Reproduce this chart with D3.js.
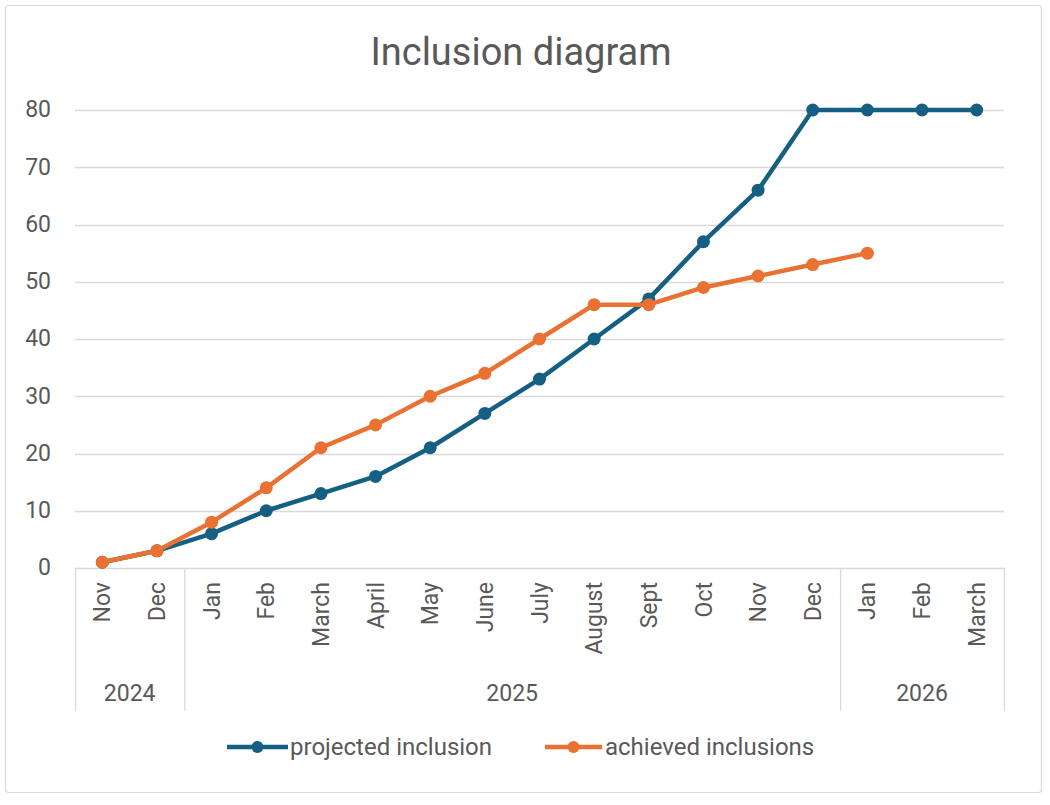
<!DOCTYPE html>
<html>
<head>
<meta charset="utf-8">
<script src="https://cdn.jsdelivr.net/npm/d3@7/dist/d3.min.js"></script>
<style>
html,body{margin:0;padding:0;background:#fff;}
svg{display:block;font-family:Roboto, "Liberation Sans", Arial, sans-serif;}
</style>
</head>
<body>
<svg id="chart" width="1050" height="805"></svg>
<script>
const months = ["Nov","Dec","Jan","Feb","March","April","May","June","July","August","Sept","Oct","Nov","Dec","Jan","Feb","March"];
const years = [
  {label:"2024", start:0, end:1},
  {label:"2025", start:2, end:13},
  {label:"2026", start:14, end:16}
];
const projected = [1,3,6,10,13,16,21,27,33,40,47,57,66,80,80,80,80];
const achieved = [1,3,8,14,21,25,30,34,40,46,46,49,51,53,55];
const yTicks = [0,10,20,30,40,50,60,70,80];
const seriesNames = ["projected inclusion","achieved inclusions"];
const colors = ["#156082","#E97132"];

(function(){
const svg = d3.select("#chart");
const textColor = "#595959";
const gridColor = "#d9d9d9";

// border
svg.append("rect").attr("x",5.5).attr("y",5.5).attr("width",1036).attr("height",787)
  .attr("fill","#fff").attr("stroke","#d9d9d9").attr("stroke-width",1.2).attr("rx",3);

const pLeft = 75, pRight = 1004, pTop = 110, pBottom = 568;
const x = d3.scaleBand().domain(d3.range(months.length)).range([pLeft,pRight]).padding(0);
const cx = i => x(i) + x.bandwidth()/2;
const y = d3.scaleLinear().domain([0,80]).range([pBottom,pTop]);

// title
svg.append("text").attr("x",521).attr("y",65).attr("text-anchor","middle")
  .attr("fill",textColor).attr("font-size",38).text("Inclusion diagram");

// gridlines
svg.append("g").selectAll("line").data(yTicks).join("line")
  .attr("x1",pLeft).attr("x2",pRight)
  .attr("y1",d=>Math.round(y(d))+0.5).attr("y2",d=>Math.round(y(d))+0.5)
  .attr("stroke",gridColor).attr("stroke-width",1.3);

// y tick labels
const yAxis = d3.axisLeft(y).tickValues(yTicks).tickSize(0).tickPadding(0);
const yg = svg.append("g").attr("transform",`translate(51,0)`).call(yAxis);
yg.select(".domain").remove();
yg.selectAll("text").attr("fill",textColor).attr("font-size",23).attr("dy","0.3em")
  .attr("font-family","Roboto, 'Liberation Sans', Arial, sans-serif");

// x month labels
svg.append("g").selectAll("text").data(months).join("text")
  .attr("transform",(d,i)=>`translate(${cx(i)},${pBottom+14}) rotate(-90)`)
  .attr("text-anchor","end").attr("dy","0.35em")
  .attr("fill",textColor).attr("font-size",23).text(d=>d);

// group separator lines
const seps = [0, ...years.map(g=>g.end+1)];
const sx = i => (i<months.length? x(i): pRight)+0.5;
svg.append("g").selectAll("line").data(seps).join("line")
  .attr("x1",sx).attr("x2",sx).attr("y1",pBottom).attr("y2",711)
  .attr("stroke",gridColor).attr("stroke-width",1.3);

// year labels
svg.append("g").selectAll("text").data(years).join("text")
  .attr("x",g=>(x(g.start)+x(g.end)+x.bandwidth())/2)
  .attr("y",701).attr("text-anchor","middle")
  .attr("fill",textColor).attr("font-size",23).text(g=>g.label);

// lines
const line = d3.line().x((d,i)=>cx(i)).y(d=>y(d));
[projected, achieved].forEach((data,k)=>{
  const g = svg.append("g");
  g.append("path").datum(data).attr("d",line).attr("fill","none")
    .attr("stroke",colors[k]).attr("stroke-width",4.5)
    .attr("stroke-linejoin","round").attr("stroke-linecap","round");
  g.selectAll("circle").data(data).join("circle")
    .attr("cx",(d,i)=>cx(i)).attr("cy",d=>y(d)).attr("r",6.5)
    .attr("fill",colors[k]);
});

// legend
const legendItems = [
  {x0:227, x1:288, tx:290},
  {x0:545, x1:602, tx:605}
];
legendItems.forEach((p,k)=>{
  const ly = 747;
  svg.append("line").attr("x1",p.x0).attr("x2",p.x1).attr("y1",ly).attr("y2",ly)
    .attr("stroke",colors[k]).attr("stroke-width",4.5);
  svg.append("circle").attr("cx",(p.x0+p.x1)/2).attr("cy",ly).attr("r",6).attr("fill",colors[k]);
  svg.append("text").attr("x",p.tx).attr("y",ly).attr("dy","0.35em")
    .attr("fill",textColor).attr("font-size",24).text(seriesNames[k]);
});
})();
</script>
</body>
</html>
